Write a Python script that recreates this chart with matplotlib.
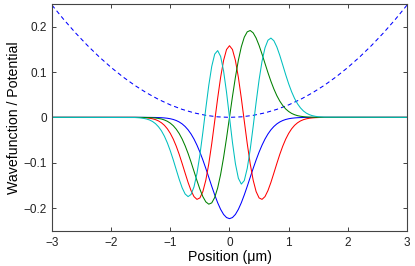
import matplotlib
matplotlib.use("Agg")
import matplotlib.pyplot as plt

plt.rcParams['font.family'] = ['Liberation Sans', 'DejaVu Sans']

# Potential (dashed)
x_pot = [-3.0, -2.8, -2.6, -2.4, -2.2, -2.0, -1.8, -1.6, -1.4, -1.2, -1.0, -0.8, -0.6, -0.4, -0.2, 0.0,
         0.2, 0.4, 0.6, 0.8, 1.0, 1.2, 1.4, 1.6, 1.8, 2.0, 2.2, 2.4, 2.6, 2.8, 3.0]
potential = [0.2475, 0.2156, 0.1859, 0.1584, 0.1331, 0.1100, 0.0891, 0.0704, 0.0539, 0.0396, 0.0275, 0.0176,
             0.0099, 0.0044, 0.0011, 0.0, 0.0011, 0.0044, 0.0099, 0.0176, 0.0275, 0.0396, 0.0539, 0.0704,
             0.0891, 0.1100, 0.1331, 0.1584, 0.1859, 0.2156, 0.2475]

# Wavefunctions
x_wf = [-3.0, -1.6, -1.55, -1.5, -1.45, -1.4, -1.35, -1.3, -1.25, -1.2, -1.15, -1.1, -1.05, -1.0, -0.95, -0.9,
        -0.85, -0.8, -0.75, -0.7, -0.65, -0.6, -0.55, -0.5, -0.45, -0.4, -0.35, -0.3, -0.25, -0.2, -0.15, -0.1,
        -0.05, 0.0, 0.05, 0.1, 0.15, 0.2, 0.25, 0.3, 0.35, 0.4, 0.45, 0.5, 0.55, 0.6, 0.65, 0.7, 0.75, 0.8,
        0.85, 0.9, 0.95, 1.0, 1.05, 1.1, 1.15, 1.2, 1.25, 1.3, 1.35, 1.4, 1.45, 1.5, 1.55, 1.6, 3.0]

psi_blue = [0, 0, 0, 0, 0, -0.0001, -0.0001, -0.0002, -0.0003, -0.0005, -0.0008, -0.0013, -0.0020, -0.0031,
            -0.0047, -0.0070, -0.0102, -0.0145, -0.0202, -0.0275, -0.0367, -0.0479, -0.0613, -0.0767, -0.0940,
            -0.1127, -0.1323, -0.1521, -0.1710, -0.1883, -0.2029, -0.2141, -0.2210, -0.2234, -0.2210, -0.2141,
            -0.2029, -0.1883, -0.1710, -0.1521, -0.1323, -0.1127, -0.0940, -0.0767, -0.0613, -0.0479, -0.0367,
            -0.0275, -0.0202, -0.0145, -0.0102, -0.0070, -0.0047, -0.0031, -0.0020, -0.0013, -0.0008, -0.0005,
            -0.0003, -0.0002, -0.0001, -0.0001, 0, 0, 0, 0, 0]

psi_green = [0, 0.0, -0.0001, -0.0001, -0.0002, -0.0003, -0.0005, -0.0009, -0.0015, -0.0024, -0.0037, -0.0058,
             -0.0087, -0.0129, -0.0185, -0.0261, -0.0358, -0.0479, -0.0626, -0.0796, -0.0986, -0.1189, -0.1394,
             -0.1586, -0.1749, -0.1864, -0.1915, -0.1886, -0.1768, -0.1557, -0.1259, -0.0885, -0.0457, 0.0,
             0.0457, 0.0885, 0.1259, 0.1557, 0.1768, 0.1886, 0.1915, 0.1864, 0.1749, 0.1586, 0.1394, 0.1189,
             0.0986, 0.0796, 0.0626, 0.0479, 0.0358, 0.0261, 0.0185, 0.0129, 0.0087, 0.0058, 0.0037, 0.0024,
             0.0015, 0.0009, 0.0005, 0.0003, 0.0002, 0.0001, 0.0001, 0.0, 0]

psi_red = [0, -0.0001, -0.0002, -0.0004, -0.0007, -0.0012, -0.0020, -0.0032, -0.0051, -0.0079, -0.0120, -0.0176,
           -0.0253, -0.0354, -0.0481, -0.0636, -0.0817, -0.1019, -0.1229, -0.1435, -0.1615, -0.1748, -0.1809,
           -0.1777, -0.1637, -0.1384, -0.1024, -0.0580, -0.0083, 0.0421, 0.0883, 0.1255, 0.1496, 0.1580,
           0.1496, 0.1255, 0.0883, 0.0421, -0.0083, -0.0580, -0.1024, -0.1384, -0.1637, -0.1777, -0.1809,
           -0.1748, -0.1615, -0.1435, -0.1229, -0.1019, -0.0817, -0.0636, -0.0481, -0.0354, -0.0253, -0.0176,
           -0.0120, -0.0079, -0.0051, -0.0032, -0.0020, -0.0012, -0.0007, -0.0004, -0.0002, -0.0001, 0]

psi_cyan = [0, -0.0004, -0.0008, -0.0013, -0.0023, -0.0037, -0.0059, -0.0092, -0.0140, -0.0208, -0.0298, -0.0416,
            -0.0564, -0.0740, -0.0940, -0.1155, -0.1367, -0.1554, -0.1690, -0.1748, -0.1701, -0.1533, -0.1237,
            -0.0826, -0.0330, 0.0201, 0.0708, 0.1125, 0.1394, 0.1472, 0.1344, 0.1022, 0.0552, 0.0,
            -0.0552, -0.1022, -0.1344, -0.1472, -0.1394, -0.1125, -0.0708, -0.0201, 0.0330, 0.0826, 0.1237,
            0.1533, 0.1701, 0.1748, 0.1690, 0.1554, 0.1367, 0.1155, 0.0940, 0.0740, 0.0564, 0.0416, 0.0298,
            0.0208, 0.0140, 0.0092, 0.0059, 0.0037, 0.0023, 0.0013, 0.0008, 0.0004, 0]

x_ticks = [-3, -2, -1, 0, 1, 2, 3]
x_ticklabels = ['\u22123', '\u22122', '\u22121', '0', '1', '2', '3']
y_ticks = [-0.2, -0.1, 0, 0.1, 0.2]
y_ticklabels = ['\u22120.2', '\u22120.1', '0', '0.1', '0.2']

fig = plt.figure(figsize=(4.15, 2.66), dpi=100)
ax = fig.add_axes([0.1253, 0.1327, 0.8554, 0.8523])

lw = 0.75
ax.plot(x_pot, potential, color='#0000ff', lw=lw, linestyle=(0, (4, 3)))
ax.plot(x_wf, psi_blue, color='#0000ff', lw=lw)
ax.plot(x_wf, psi_red, color='#ff0000', lw=lw)
ax.plot(x_wf, psi_green, color='#008000', lw=lw)
ax.plot(x_wf, psi_cyan, color='#00bfbf', lw=lw)

ax.set_xlim(-3, 3)
ax.set_ylim(-0.25, 0.25)
ax.set_xticks(x_ticks)
ax.set_xticklabels(x_ticklabels)
ax.set_yticks(y_ticks)
ax.set_yticklabels(y_ticklabels)
ax.tick_params(direction='in', length=3, width=0.6, top=True, right=True, labelsize=8.5,
               colors='#222222')
ax.tick_params(axis='x', pad=4.5)
ax.tick_params(axis='y', pad=3.5)
for s in ax.spines.values():
    s.set_linewidth(0.8)
    s.set_color('#444444')

ax.set_xlabel('Position (\u03bcm)', fontsize=10.2, labelpad=1)
ax.set_ylabel('Wavefunction / Potential', fontsize=10.2, labelpad=2)

fig.savefig('out.png', dpi=100)
